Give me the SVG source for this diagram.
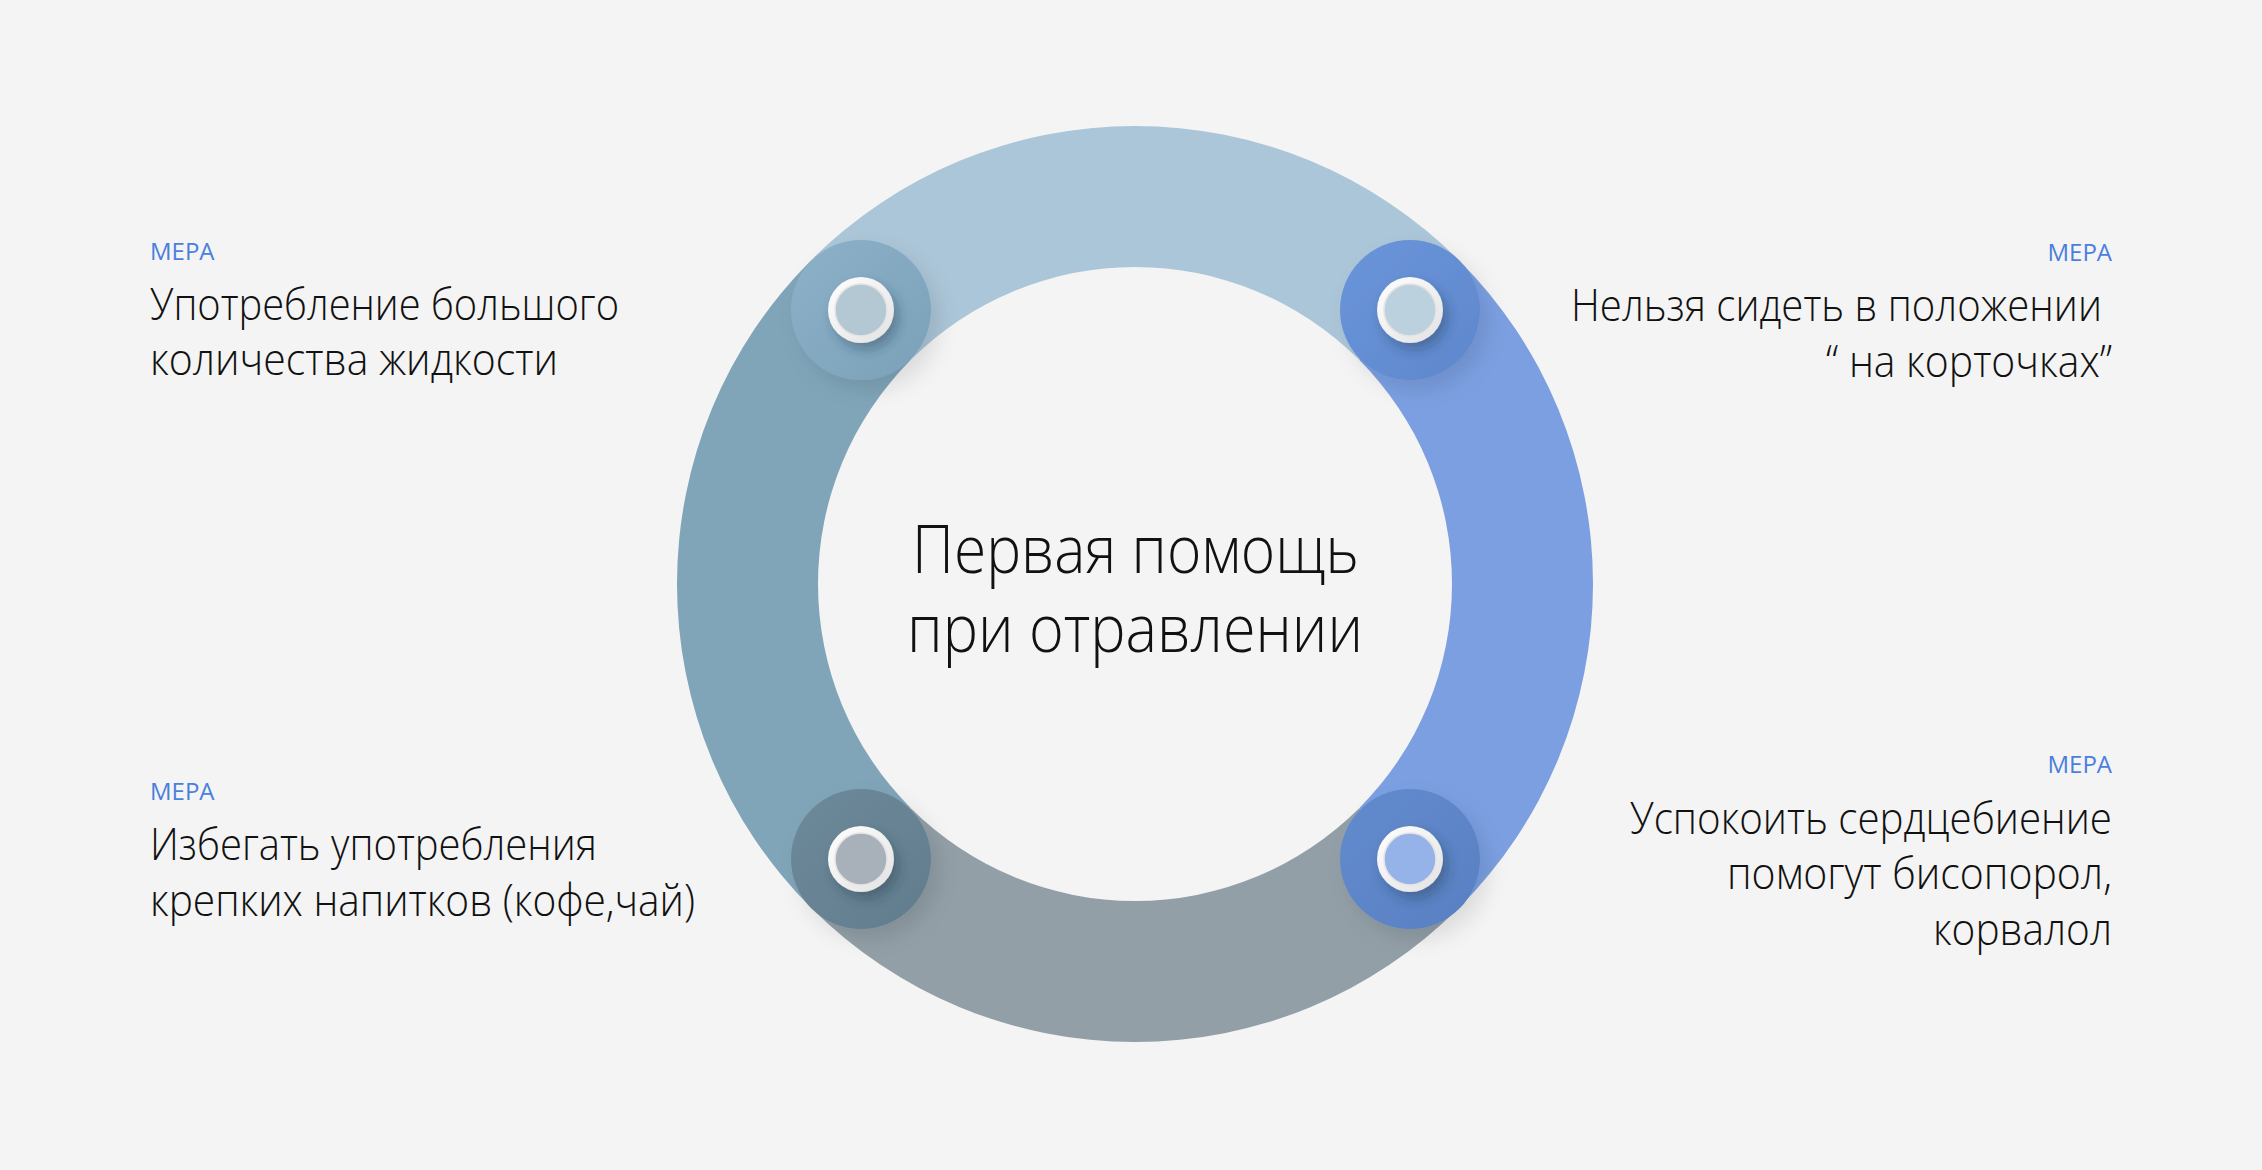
<svg xmlns="http://www.w3.org/2000/svg" width="2262" height="1170" viewBox="0 0 2262 1170">
<style>
.t{font-family:"Open Sans","Liberation Sans",sans-serif;font-weight:300;fill:#111;}
.body{font-size:44px;}
.tag{font-family:"Open Sans","Liberation Sans",sans-serif;font-weight:400;font-size:24px;fill:#4a7fdd;}
.title{font-size:67px;}
</style>
<defs>
<filter id="haloSh" x="-50%" y="-50%" width="200%" height="200%">
<feDropShadow dx="8" dy="10" stdDeviation="10" flood-color="#000" flood-opacity="0.10"/>
</filter>
<filter id="dotSh" x="-60%" y="-60%" width="220%" height="220%">
<feDropShadow dx="5" dy="7" stdDeviation="6" flood-color="#203040" flood-opacity="0.35"/>
</filter>
<linearGradient id="ringG" x1="0" y1="0" x2="1" y2="1">
<stop offset="0" stop-color="#ffffff"/>
<stop offset="1" stop-color="#e2e2e2"/>
</linearGradient>
<linearGradient id="hTL" x1="0" y1="0" x2="1" y2="1">
<stop offset="0" stop-color="#8cb1c9"/>
<stop offset="1" stop-color="#7ba1b9"/>
</linearGradient>
<linearGradient id="hTR" x1="0" y1="0" x2="1" y2="1">
<stop offset="0" stop-color="#6a95da"/>
<stop offset="1" stop-color="#5f87cc"/>
</linearGradient>
<linearGradient id="hBL" x1="0" y1="0" x2="1" y2="1">
<stop offset="0" stop-color="#6d8a9a"/>
<stop offset="1" stop-color="#627d8d"/>
</linearGradient>
<linearGradient id="hBR" x1="0" y1="0" x2="1" y2="1">
<stop offset="0" stop-color="#628bcd"/>
<stop offset="1" stop-color="#5880c2"/>
</linearGradient>
</defs>
<rect width="2262" height="1170" fill="#f4f4f4"/>
<g id="ring">
<path d="M 811.14 260.14 A 458 458 0 0 1 1458.86 260.14 L 1359.15 359.85 A 317 317 0 0 0 910.85 359.85 Z" fill="#abc6d8"/>
<path d="M 1458.86 260.14 A 458 458 0 0 1 1458.86 907.86 L 1359.15 808.15 A 317 317 0 0 0 1359.15 359.85 Z" fill="#7b9fe1"/>
<path d="M 1458.86 907.86 A 458 458 0 0 1 811.14 907.86 L 910.85 808.15 A 317 317 0 0 0 1359.15 808.15 Z" fill="#929fa7"/>
<path d="M 811.14 907.86 A 458 458 0 0 1 811.14 260.14 L 910.85 359.85 A 317 317 0 0 0 910.85 808.15 Z" fill="#80a5b9"/>
</g>
<g id="connectors"></g>
<g id="center">
<text class="t title" x="912" y="573" textLength="447" lengthAdjust="spacingAndGlyphs">Первая помощь</text>
<text class="t title" x="907" y="652" textLength="456" lengthAdjust="spacingAndGlyphs">при отравлении</text>
</g>
<g id="node-tl">
<circle cx="861" cy="310" r="70" fill="url(#hTL)" filter="url(#haloSh)"/>
<circle cx="861" cy="310" r="33" fill="url(#ringG)" filter="url(#dotSh)"/>
<circle cx="861" cy="310" r="26" fill="#b4c8d3" stroke="#e4e4e4" stroke-width="1.5"/>
<text class="tag" x="150" y="260">МЕРА</text>
<text class="t body" x="150" y="320" textLength="469" lengthAdjust="spacingAndGlyphs">Употребление большого</text>
<text class="t body" x="150" y="375" textLength="408" lengthAdjust="spacingAndGlyphs">количества жидкости</text>
</g>
<g id="node-tr">
<circle cx="1410" cy="310" r="70" fill="url(#hTR)" filter="url(#haloSh)"/>
<circle cx="1410" cy="310" r="33" fill="url(#ringG)" filter="url(#dotSh)"/>
<circle cx="1410" cy="310" r="26" fill="#bcd1de" stroke="#e4e4e4" stroke-width="1.5"/>
<text class="tag" x="2112" y="261" text-anchor="end">МЕРА</text>
<text class="t body" x="2102" y="321" text-anchor="end" textLength="531" lengthAdjust="spacingAndGlyphs">Нельзя сидеть в положении</text>
<text class="t body" x="2112" y="377" text-anchor="end" textLength="286" lengthAdjust="spacingAndGlyphs">“ на корточках”</text>
</g>
<g id="node-bl">
<circle cx="861" cy="859" r="70" fill="url(#hBL)" filter="url(#haloSh)"/>
<circle cx="861" cy="859" r="33" fill="url(#ringG)" filter="url(#dotSh)"/>
<circle cx="861" cy="859" r="26" fill="#a8b1b9" stroke="#e4e4e4" stroke-width="1.5"/>
<text class="tag" x="150" y="800">МЕРА</text>
<text class="t body" x="150" y="860" textLength="447" lengthAdjust="spacingAndGlyphs">Избегать употребления</text>
<text class="t body" x="150" y="916" textLength="545" lengthAdjust="spacingAndGlyphs">крепких напитков (кофе,чай)</text>
</g>
<g id="node-br">
<circle cx="1410" cy="859" r="70" fill="url(#hBR)" filter="url(#haloSh)"/>
<circle cx="1410" cy="859" r="33" fill="url(#ringG)" filter="url(#dotSh)"/>
<circle cx="1410" cy="859" r="26" fill="#95b3e8" stroke="#e4e4e4" stroke-width="1.5"/>
<text class="tag" x="2112" y="773" text-anchor="end">МЕРА</text>
<text class="t body" x="2112" y="834" text-anchor="end" textLength="482" lengthAdjust="spacingAndGlyphs">Успокоить сердцебиение</text>
<text class="t body" x="2112" y="889" text-anchor="end" textLength="385" lengthAdjust="spacingAndGlyphs">помогут бисопорол,</text>
<text class="t body" x="2112" y="945" text-anchor="end" textLength="179" lengthAdjust="spacingAndGlyphs">корвалол</text>
</g>
</svg>
